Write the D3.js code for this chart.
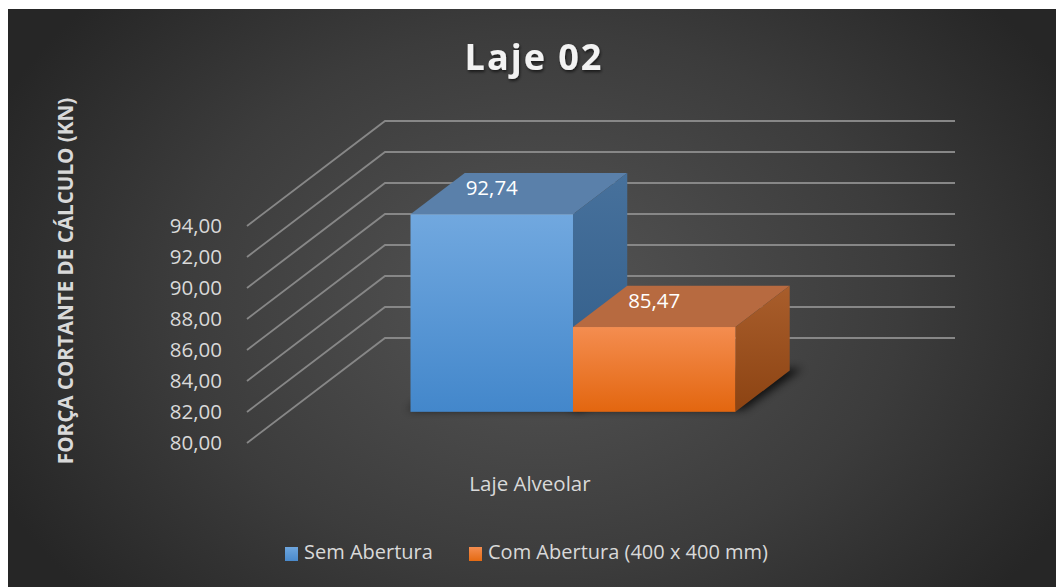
<!DOCTYPE html>
<html><head><meta charset="utf-8">
<script src="https://cdn.jsdelivr.net/npm/d3@7"></script>
<style>html,body{margin:0;padding:0;background:#fff;}svg{display:block;}</style>
</head><body>
<script>
const categories = ["Laje Alveolar"];
const seriesNames = ["Sem Abertura", "Com Abertura (400 x 400 mm)"];
const semAbertura = [92.74];
const comAbertura = [85.47];
const yTicks = [80, 82, 84, 86, 88, 90, 92, 94];
const title = "Laje 02";
const yTitle = "FORÇA CORTANTE DE CÁLCULO (KN)";

const W = 1056, H = 587;
const svg = d3.select("body").append("svg").attr("width", W).attr("height", H);
const defs = svg.append("defs");

const bg = defs.append("radialGradient").attr("id", "bg").attr("gradientUnits", "userSpaceOnUse")
  .attr("cx", 540).attr("cy", 300).attr("r", 600)
  .attr("gradientTransform", "translate(540,300) scale(1,0.75) translate(-540,-300)");
bg.append("stop").attr("offset", "0").attr("stop-color", "#555555");
bg.append("stop").attr("offset", "0.6").attr("stop-color", "#3c3c3c");
bg.append("stop").attr("offset", "1").attr("stop-color", "#262626");

function vgrad(id, c0, c1) {
  const g = defs.append("linearGradient").attr("id", id).attr("x1", 0).attr("y1", 0).attr("x2", 0).attr("y2", 1);
  g.append("stop").attr("offset", "0").attr("stop-color", c0);
  g.append("stop").attr("offset", "1").attr("stop-color", c1);
}
vgrad("blueFront", "#71a8df", "#4387cb");
vgrad("blueSide", "#47719c", "#2f5b87");
vgrad("orangeFront", "#f48d50", "#e3660f");
vgrad("orangeSide", "#a95e2c", "#8c4312");
vgrad("legBlue", "#6ea6de", "#4a8acc");
vgrad("legOrange", "#f48d50", "#e56a12");

const sh = defs.append("filter").attr("id", "shadow").attr("x", "-20%").attr("y", "-50%").attr("width", "140%").attr("height", "200%");
sh.append("feGaussianBlur").attr("stdDeviation", 4);
const ts = defs.append("filter").attr("id", "tshadow").attr("x", "-10%").attr("y", "-20%").attr("width", "120%").attr("height", "150%");
ts.append("feDropShadow").attr("dx", 1).attr("dy", 2).attr("stdDeviation", 1.5).attr("flood-color", "#000").attr("flood-opacity", 0.6);

svg.append("rect").attr("x", 8).attr("y", 9).attr("width", W - 8).attr("height", H - 9).attr("fill", "url(#bg)");

// 3D projection
const DX = 138, DY = 105;
const y = d3.scaleLinear().domain([80, 94]).range([443, 226]);
const x0 = d3.scaleBand().domain(categories).range([247, 817]);
const x1 = d3.scaleBand().domain(seriesNames).range([0, x0.bandwidth()]).paddingInner(0).paddingOuter(0.754);
const P = (x, v, d) => [x + d * DX, y(v) - d * DY];

// gridlines: back wall and left wall
const grid = svg.append("g").attr("stroke", "#878787").attr("stroke-width", 1.9).attr("fill", "none");
yTicks.forEach(t => {
  const a = P(247, t, 0), b = P(247, t, 1), c = P(817, t, 1);
  grid.append("path").attr("d", d3.line()([a, b, c]));
});

// y tick labels
svg.append("g").selectAll("text").data(yTicks).join("text")
  .attr("x", 222).attr("y", d => y(d)).attr("dy", "0.36em").attr("text-anchor", "end")
  .attr("font-family", "Open Sans").attr("font-size", 20.5).attr("fill", "#d9d9d9")
  .text(d => d.toFixed(2).replace(".", ","));

// bars
const D0 = 0.297, D1 = 0.69;
const data = [
  {name: seriesNames[0], v: semAbertura[0], front: "url(#blueFront)", top: "#5a80aa", side: "url(#blueSide)"},
  {name: seriesNames[1], v: comAbertura[0], front: "url(#orangeFront)", top: "#b76a40", side: "url(#orangeSide)"}
];
const cat = categories[0];
const bars = svg.append("g");
// shadows
data.forEach((d, i) => {
  const xl = x0(cat) + x1(d.name), xr = xl + x1.bandwidth();
  const base = y.domain()[0];
  const pts = [P(xl - 6, base, D0 + 0.02), P(xr + 6, base, D0 + 0.02), P(xr + 10, base, D1 + 0.02), P(xl - 2, base, D1 + 0.02)];
  bars.append("path").attr("d", d3.line()(pts) + "Z").attr("fill", "#000").attr("opacity", 0.75).attr("filter", "url(#shadow)");
});
data.forEach((d, i) => {
  const xl = x0(cat) + x1(d.name), xr = xl + x1.bandwidth();
  const base = y.domain()[0];
  const g = bars.append("g");
  g.append("path").attr("d", d3.line()([P(xl, d.v, D0), P(xr, d.v, D0), P(xr, d.v, D1), P(xl, d.v, D1)]) + "Z").attr("fill", d.top);
  g.append("path").attr("d", d3.line()([P(xr, d.v, D0), P(xr, d.v, D1), P(xr, base, D1), P(xr, base, D0)]) + "Z").attr("fill", d.side);
  const f0 = P(xl, d.v, D0), f1 = P(xr, base, D0);
  g.append("rect").attr("x", f0[0]).attr("y", f0[1]).attr("width", f1[0] - f0[0]).attr("height", f1[1] - f0[1]).attr("fill", d.front);
  g.append("text").attr("x", (f0[0] + f1[0]) / 2).attr("y", f0[1] - 19).attr("text-anchor", "middle")
    .attr("font-family", "Open Sans").attr("font-size", 20.5).attr("fill", "#ffffff")
    .text(d.v.toFixed(2).replace(".", ","));
});

// category label
svg.append("text").attr("x", x0(cat) + x0.bandwidth() / 2 - 2).attr("y", 491).attr("text-anchor", "middle")
  .attr("font-family", "Open Sans").attr("font-size", 20.5).attr("fill", "#d9d9d9").text(cat);

// title
svg.append("text").attr("x", 534).attr("y", 70).attr("text-anchor", "middle")
  .attr("font-family", "Open Sans").attr("font-weight", "bold").attr("font-size", 36).attr("letter-spacing", 2)
  .attr("fill", "#f2f2f2").attr("filter", "url(#tshadow)").text(title);

// y title
svg.append("text").attr("transform", "translate(73,281) rotate(-90)").attr("text-anchor", "middle")
  .attr("font-family", "Open Sans").attr("font-weight", "bold").attr("font-size", 20.6).attr("fill", "#d9d9d9")
  .text(yTitle);

// legend
const legX = [285, 469];
const legFill = ["url(#legBlue)", "url(#legOrange)"];
const leg = svg.append("g");
seriesNames.forEach((n, i) => {
  leg.append("rect").attr("x", legX[i]).attr("y", 547).attr("width", 13).attr("height", 14).attr("fill", legFill[i]);
  leg.append("text").attr("x", legX[i] + 19).attr("y", 559).attr("font-family", "Open Sans").attr("font-size", 20)
    .attr("fill", "#d9d9d9").text(n);
});
</script>
</body></html>
